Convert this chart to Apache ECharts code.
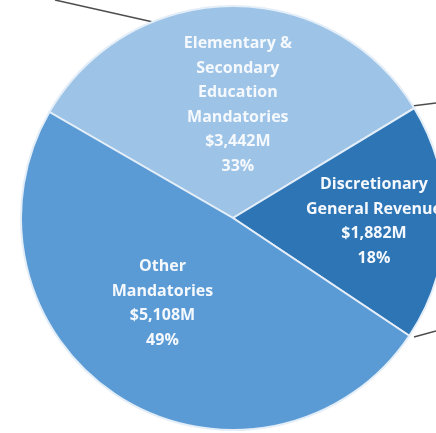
<!DOCTYPE html>
<html>
<head>
<meta charset="utf-8">
<script src="https://cdn.jsdelivr.net/npm/echarts@6/dist/echarts.min.js"></script>
<style>
  html, body { margin: 0; padding: 0; background: #ffffff; }
  #chart { width: 436px; height: 433px; }
</style>
</head>
<body>
<div id="chart"></div>
<script>
// Budget split by funding source (millions of dollars)
const categories = [
  'Elementary &\nSecondary\nEducation\nMandatories',
  'Discretionary\nGeneral Revenue',
  'Other\nMandatories'
];
const amounts = [3442, 1882, 5108];
const sliceColors = ['#9dc3e6', '#2e75b6', '#5b9bd5'];

// Nudge each inside label from the slice's mid-radius point
const labelShift = [[6, -4], [32, 1], [-13, -7]];

const chart = echarts.init(document.getElementById('chart'), null, { renderer: 'canvas' });

chart.setOption({
  backgroundColor: '#ffffff',
  animation: false,
  series: [{
    type: 'pie',
    center: [233, 218],
    radius: 212,
    startAngle: 150,
    clockwise: true,
    percentPrecision: 0,
    data: categories.map((name, i) => ({
      name: name,
      value: amounts[i],
      itemStyle: { color: sliceColors[i] }
    })),
    itemStyle: { borderColor: '#e3eef8', borderWidth: 2 },
    label: {
      show: true,
      position: 'inside',
      color: '#f5f9fd',
      fontFamily: '"Open Sans", sans-serif',
      fontWeight: 'bold',
      fontSize: 16,
      lineHeight: 24.5,
      align: 'center',
      formatter: p => p.name + '\n$' + p.value.toLocaleString('en-US') + 'M\n' + p.percent + '%'
    },
    labelLine: { show: false },
    labelLayout: p => ({ dx: labelShift[p.dataIndex][0], dy: labelShift[p.dataIndex][1] }),
    emphasis: { disabled: true }
  }],
  graphic: [
    // connector lines leading off the pie edge
    { type: 'polyline', shape: { points: [[55, 0], [153, 22]] }, style: { stroke: '#4d4d4d', lineWidth: 1.5 } },
    { type: 'polyline', shape: { points: [[412, 106], [436, 103]] }, style: { stroke: '#4d4d4d', lineWidth: 1.5 } },
    { type: 'polyline', shape: { points: [[414, 337], [436, 331]] }, style: { stroke: '#4d4d4d', lineWidth: 1.5 } }
  ]
});
</script>
</body>
</html>
